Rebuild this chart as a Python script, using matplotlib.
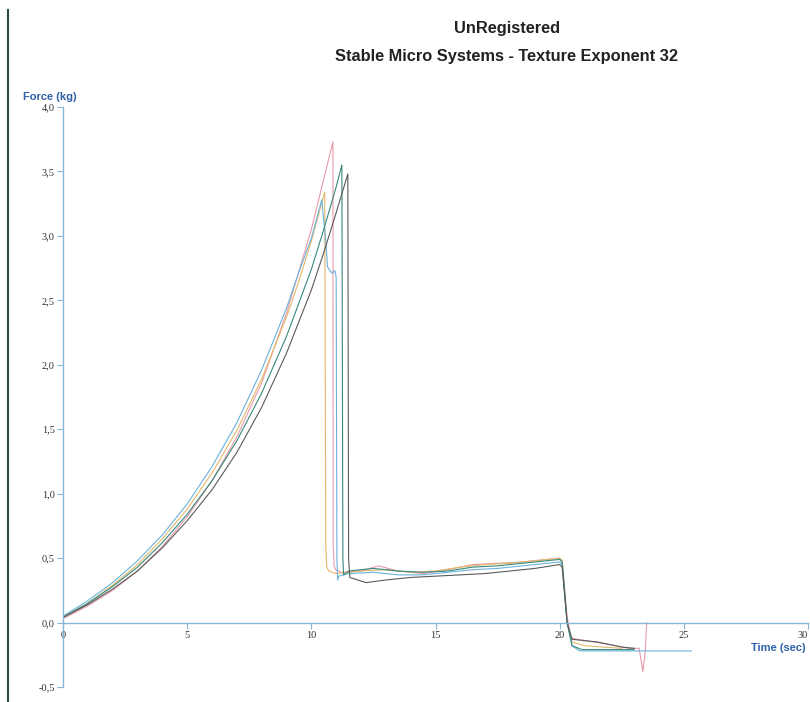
import matplotlib
matplotlib.use("Agg")
import matplotlib.pyplot as plt
from matplotlib.lines import Line2D

# ---- data ----
pink_t = [0, 1, 2, 3, 4, 5, 6, 7, 8, 9, 10, 10.87, 10.88, 10.92, 10.98, 11.2, 12, 12.7, 13.5, 14.5, 15.5, 16.5, 17.5, 18.5, 19.5, 20.0, 20.1, 20.3, 20.45, 21, 22, 22.8, 23.2, 23.35, 23.45, 23.5]
pink_f = [0.03, 0.13, 0.25, 0.40, 0.59, 0.82, 1.10, 1.44, 1.86, 2.40, 3.05, 3.73, 0.60, 0.44, 0.41, 0.39, 0.40, 0.44, 0.40, 0.38, 0.41, 0.45, 0.46, 0.47, 0.49, 0.50, 0.48, 0.05, -0.12, -0.14, -0.17, -0.20, -0.20, -0.38, -0.22, 0.0]

orange_t = [0, 1, 2, 3, 4, 5, 6, 7, 8, 9, 9.5, 10, 10.54, 10.58, 10.62, 10.7, 11, 12, 13, 14, 15, 16, 17, 18, 19, 20, 20.1, 20.3, 20.5, 21, 22.5]
orange_f = [0.04, 0.15, 0.29, 0.45, 0.65, 0.88, 1.16, 1.49, 1.89, 2.37, 2.65, 2.96, 3.34, 0.60, 0.43, 0.40, 0.38, 0.40, 0.41, 0.39, 0.40, 0.43, 0.45, 0.46, 0.48, 0.50, 0.48, 0.00, -0.15, -0.18, -0.20]

blue_t = [0, 1, 2, 3, 4, 5, 6, 7, 8, 9, 9.5, 10, 10.42, 10.6, 10.65, 10.83, 10.95, 11.0, 11.03, 11.06, 11.1, 11.5, 12.5, 13.5, 14.5, 15.5, 16.5, 17.5, 18.5, 19.5, 20.0, 20.1, 20.3, 20.5, 20.8, 25.3]
blue_f = [0.05, 0.17, 0.31, 0.48, 0.68, 0.92, 1.21, 1.55, 1.96, 2.44, 2.72, 2.98, 3.28, 2.92, 2.76, 2.71, 2.73, 2.68, 0.50, 0.33, 0.36, 0.38, 0.39, 0.37, 0.37, 0.39, 0.41, 0.42, 0.44, 0.46, 0.47, 0.45, 0.00, -0.18, -0.22, -0.22]

green_t = [0, 1, 2, 3, 4, 5, 6, 7, 8, 9, 10, 10.5, 11, 11.23, 11.27, 11.3, 11.5, 12.5, 13.5, 14.5, 15.5, 16.5, 17.5, 18.5, 19.5, 20, 20.1, 20.3, 20.5, 20.9, 23]
green_f = [0.04, 0.15, 0.28, 0.43, 0.62, 0.84, 1.10, 1.41, 1.78, 2.22, 2.74, 3.05, 3.38, 3.55, 0.50, 0.37, 0.40, 0.42, 0.40, 0.39, 0.40, 0.43, 0.44, 0.46, 0.48, 0.49, 0.47, 0.00, -0.18, -0.21, -0.21]

dark_t = [0, 1, 2, 3, 4, 5, 6, 7, 8, 9, 10, 10.5, 11, 11.47, 11.5, 11.55, 12.2, 13, 14, 15, 16, 17, 18, 19, 20, 20.1, 20.3, 20.5, 21.5, 22.5, 23]
dark_f = [0.04, 0.14, 0.26, 0.40, 0.58, 0.79, 1.03, 1.32, 1.67, 2.09, 2.58, 2.87, 3.18, 3.48, 0.50, 0.35, 0.31, 0.33, 0.35, 0.36, 0.37, 0.38, 0.40, 0.42, 0.45, 0.43, 0.00, -0.13, -0.15, -0.19, -0.20]

series = [
    (pink_t, pink_f, "#e79aaa"),
    (orange_t, orange_f, "#e2b86a"),
    (blue_t, blue_f, "#6ab2da"),
    (green_t, green_f, "#35897d"),
    (dark_t, dark_f, "#5a5a5a"),
]

x_ticks = [0, 5, 10, 15, 20, 25, 30]
x_tick_labels = ["0", "5", "10", "15", "20", "25", "30"]
y_ticks = [-0.5, 0.0, 0.5, 1.0, 1.5, 2.0, 2.5, 3.0, 3.5, 4.0]
y_tick_labels = ["-0,5", "0,0", "0,5", "1,0", "1,5", "2,0", "2,5", "3,0", "3,5", "4,0"]

title1 = "UnRegistered"
title2 = "Stable Micro Systems - Texture Exponent 32"
y_label = "Force (kg)"
x_label = "Time (sec)"

# ---- figure ----
fig = plt.figure(figsize=(8.1, 7.02), dpi=100)
ax = fig.add_axes([63 / 810, 15 / 702, (808 - 63) / 810, (595 - 15) / 702])

for t, f, c in series:
    ax.plot(t, f, color=c, lw=0.8, solid_joinstyle="round")

ax.set_xlim(0, 30)
ax.set_ylim(-0.5, 4.0)
axis_col = "#86b6d6"
for s in ["top", "right"]:
    ax.spines[s].set_visible(False)
ax.spines["bottom"].set_position(("data", 0))
ax.spines["left"].set_color(axis_col)
ax.spines["bottom"].set_color(axis_col)
ax.spines["left"].set_linewidth(1.0)
ax.spines["bottom"].set_linewidth(1.0)

ax.set_xticks(x_ticks)
ax.set_xticklabels(x_tick_labels)
ax.set_yticks(y_ticks)
ax.set_yticklabels(y_tick_labels)
ax.tick_params(axis="both", colors=axis_col, length=4, width=0.8, labelcolor="#333333",
               labelsize=7.5, pad=2)
for lab in ax.get_xticklabels() + ax.get_yticklabels():
    lab.set_fontfamily("Liberation Serif")
# last x tick label sits at the page edge: right-align it so it stays inside
ax.get_xticklabels()[-1].set_horizontalalignment("right")

label_col = "#2f62a8"
fig.text(23 / 810, 1 - 97 / 702, y_label, color=label_col, fontsize=8, fontweight="bold",
         family="Liberation Sans", ha="left", va="center")
fig.text(806 / 810, 1 - 648 / 702, x_label, color=label_col, fontsize=8, fontweight="bold",
         family="Liberation Sans", ha="right", va="center")

fig.text(507 / 810, 1 - 28 / 702, title1, fontsize=11.8, fontweight="bold",
         family="Liberation Sans", color="#222222", ha="center", va="center")
fig.text(507 / 810, 1 - 56 / 702, title2, fontsize=11.8, fontweight="bold",
         family="Liberation Sans", color="#222222", ha="center", va="center")

# scanned page border on the left
fig.add_artist(Line2D([8 / 810, 8 / 810], [0, 1 - 10 / 702], color="#2e4a3c", lw=1.5,
                      transform=fig.transFigure))

fig.savefig("out.png", dpi=100)
